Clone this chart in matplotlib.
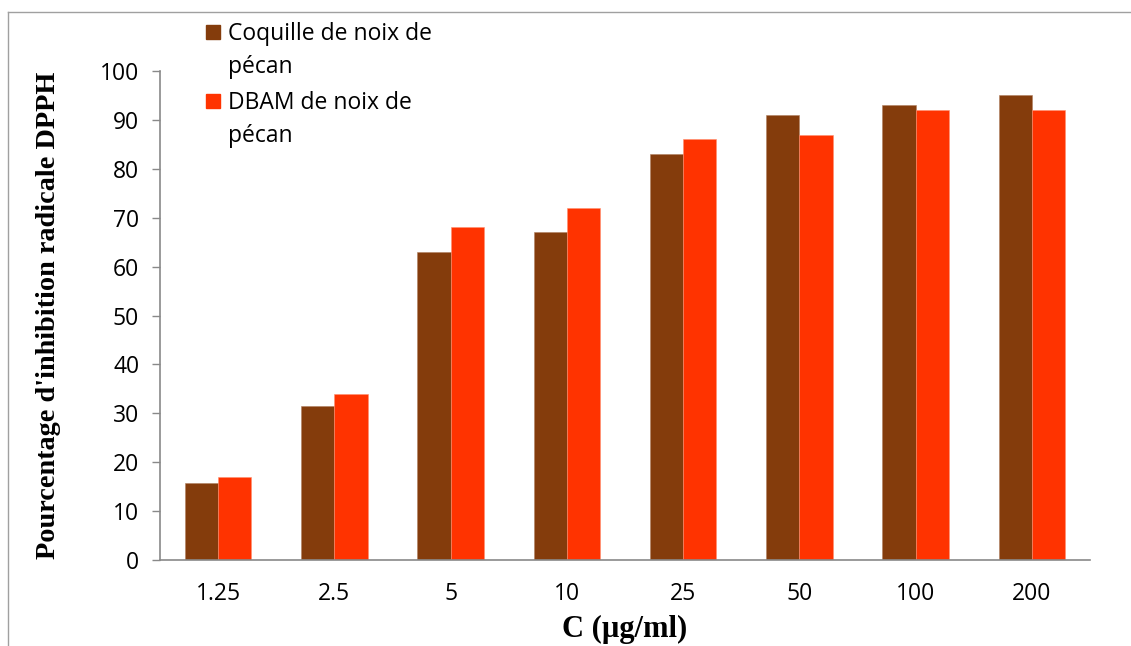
import matplotlib
matplotlib.use("Agg")
import matplotlib.pyplot as plt
import numpy as np
from matplotlib.lines import Line2D
from matplotlib.patches import Rectangle

concentrations = ["1.25", "2.5", "5", "10", "25", "50", "100", "200"]
coquille = [15.7, 31.5, 63, 67, 83, 91, 93, 95]
dbam = [17, 34, 68, 72, 86, 87, 92, 92]
series_labels = [["Coquille de noix de", "pécan"], ["DBAM de noix de", "pécan"]]
y_ticks = [0, 10, 20, 30, 40, 50, 60, 70, 80, 90, 100]

BROWN = "#843C0C"
RED = "#FF3300"
GRAY = "#898989"
TICK_FONT = "Open Sans"
SERIF = "Liberation Serif"

W, H = 1131, 646
fig = plt.figure(figsize=(W / 100, H / 100), dpi=100)
ax = fig.add_axes([160 / W, 1 - 560 / H, 930 / W, 489 / H])

x = np.arange(len(concentrations))
bw = 0.285
ax.bar(x - bw / 2, coquille, bw, color=BROWN, edgecolor="#B08060", linewidth=0.4)
ax.bar(x + bw / 2, dbam, bw, color=RED, edgecolor="#FF9070", linewidth=0.4)

ax.set_xlim(-0.5, len(concentrations) - 0.5)
ax.set_ylim(0, 100)
ax.set_yticks(y_ticks)
ax.set_xticks(x)
ax.set_xticklabels(concentrations)

for side in ("top", "right"):
    ax.spines[side].set_visible(False)
for side in ("left", "bottom"):
    ax.spines[side].set_color(GRAY)
    ax.spines[side].set_linewidth(1.2)

ax.tick_params(axis="y", length=6, color=GRAY, width=1, pad=9, labelsize=16.5)
ax.tick_params(axis="x", length=0, pad=16, labelsize=16.5)
for lab in ax.get_xticklabels() + ax.get_yticklabels():
    lab.set_family(TICK_FONT)

ax.set_ylabel("Pourcentage d'inhibition radicale DPPH", family=SERIF,
              fontweight="bold", fontsize=20.3)
ax.yaxis.set_label_coords(-99 / 930, 0.5)
ax.set_xlabel("C (µg/ml)", family=SERIF, fontweight="bold", fontsize=22,
              labelpad=6)

# legend drawn by hand so the squares sit on the first line of each label
for i, (lines, color) in enumerate(zip(series_labels, [BROWN, RED])):
    top = 25 + i * 69
    fig.add_artist(Rectangle((206 / W, 1 - (top + 14) / H), 14 / W, 14 / H,
                             transform=fig.transFigure, color=color))
    for j, line in enumerate(lines):
        fig.text(228 / W, 1 - (top + 15 + 33 * j) / H, line, family=TICK_FONT,
                 fontsize=16.5, va="baseline", ha="left")

# outer chart frame (top and left edges)
fig.add_artist(Line2D([8 / W, 1], [1 - 12 / H, 1 - 12 / H], color="#A0A0A0", lw=1))
fig.add_artist(Line2D([8 / W, 8 / W], [0, 1 - 12 / H], color="#A0A0A0", lw=1))

fig.savefig("out.png", dpi=100)
